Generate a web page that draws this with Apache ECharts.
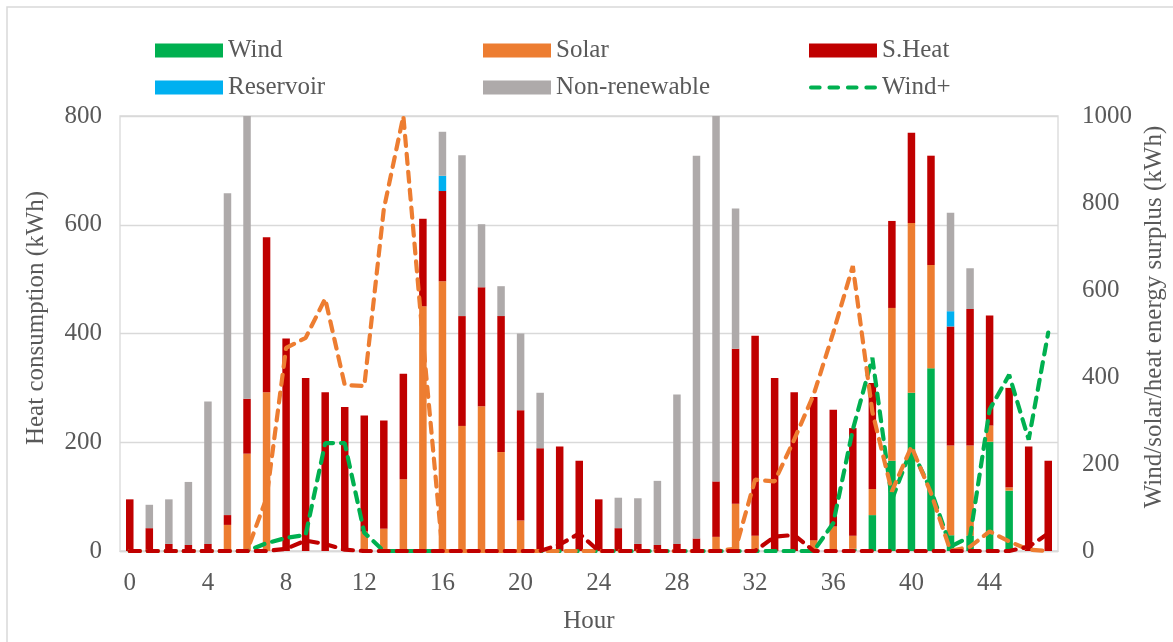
<!DOCTYPE html>
<html>
<head>
<meta charset="utf-8">
<title>Hourly heat consumption by source</title>
<script src="https://cdn.jsdelivr.net/npm/echarts@6/dist/echarts.min.js"></script>
<style>
  html, body { margin: 0; padding: 0; background: #ffffff; }
  #chart { width: 1173px; height: 642px; }
</style>
</head>
<body>
<div id="chart"></div>
<script>
// Hours of the two-day period
const hours = Array.from({ length: 48 }, (_, i) => String(i));

// Heat consumption by source (kWh), stacked bars on the left axis
const wind = [0, 0, 0, 0, 0, 0, 0, 0, 0, 0, 0, 0, 0, 0, 0, 0,
  0, 0, 0, 0, 0, 0, 0, 0, 0, 0, 0, 0, 0, 0, 0, 0,
  0, 0, 0, 0, 0, 4, 66, 166, 291, 336, 29, 28, 201, 111, 0, 0];
const solar = [0, 0, 0, 0, 0, 48, 179, 292, 0, 0, 0, 0, 36, 41, 132, 450,
  496, 230, 266, 182, 56, 0, 0, 0, 0, 0, 0, 0, 0, 0, 26, 87,
  28, 0, 0, 20, 45, 24, 48, 281, 312, 190, 165, 166, 30, 6, 0, 0];
const sHeat = [95, 42, 13, 11, 13, 18, 101, 285, 391, 318, 292, 265, 213, 199, 194, 161,
  166, 202, 219, 250, 203, 189, 192, 166, 95, 42, 13, 11, 13, 23, 102, 285,
  368, 318, 292, 263, 215, 198, 195, 160, 166, 201, 219, 251, 202, 183, 192, 166];
const reservoir = [0, 0, 0, 0, 0, 0, 0, 0, 0, 0, 0, 0, 0, 0, 0, 0,
  28, 0, 0, 0, 0, 0, 0, 0, 0, 0, 0, 0, 0, 0, 0, 0,
  0, 0, 0, 0, 0, 0, 0, 0, 0, 0, 28, 0, 0, 0, 0, 0];
const nonRenewable = [0, 43, 82, 116, 262, 592, 520, 0, 0, 0, 0, 0, 0, 0, 0, 0,
  81, 296, 116, 55, 141, 102, 0, 0, 0, 56, 84, 118, 275, 704, 672, 258,
  0, 0, 0, 0, 0, 0, 0, 0, 0, 0, 181, 75, 0, 0, 0, 0];

// Energy surplus (kWh), dashed lines on the right axis
const windSurplus = [0, 0, 0, 0, 0, 0, 0, 18, 30, 37, 248, 248, 42, 0, 0, 0,
  0, 0, 0, 0, 0, 0, 0, 0, 0, 0, 0, 0, 0, 0, 0, 0,
  0, 0, 0, 0, 64, 279, 444, 118, 235, 140, 10, 33, 325, 405, 256, 502];
const solarSurplus = [0, 0, 0, 0, 0, 0, 0, 122, 467, 490, 580, 382, 379, 786, 1000, 486,
  0, 0, 0, 0, 0, 0, 0, 0, 0, 0, 0, 0, 0, 0, 0, 5,
  164, 160, 256, 360, 502, 655, 320, 137, 240, 133, 0, 10, 45, 22, 3, 0];
const heatSurplus = [0, 0, 0, 0, 0, 0, 0, 0, 5, 24, 16, 3, 0, 0, 0, 0,
  0, 0, 0, 0, 0, 0, 15, 40, 0, 0, 0, 0, 0, 0, 0, 0,
  0, 33, 37, 0, 0, 0, 0, 0, 0, 0, 0, 0, 0, 0, 10, 40];

// Axis tick values
const leftTicks = { min: 0, max: 800, step: 200 };
const rightTicks = { min: 0, max: 1000, step: 200 };

const FONT = "'Liberation Serif', 'Times New Roman', serif";
const TEXT = '#595959';
const GRID = '#D9D9D9';
const COLORS = {
  wind: '#00B050', solar: '#ED7D31', heat: '#C00000',
  reservoir: '#00B0F0', nonRenewable: '#AEAAAA'
};

// Four rounded dashes, used as the legend key of the dashed line
const DASH_ICON = 'path://' + [0, 19, 38, 57].map(x =>
  `M${x + 2},0h9a2,2 0 0 1 0,4h-9a2,2 0 0 1 0,-4z`).join('');

const barSeries = (name, data, color) => ({
  name, type: 'bar', stack: 'heat', data, barWidth: 7.5,
  itemStyle: { color }, yAxisIndex: 0
});
const dashLine = (name, data, color) => ({
  name, type: 'line', data, yAxisIndex: 1, symbol: 'none', smooth: false,
  lineStyle: { color, width: 4.2, type: [10, 8], cap: 'round' },
  itemStyle: { color }, z: 5
});

const legendText = { fontFamily: FONT, fontSize: 25, color: TEXT, lineHeight: 25 };
const legendCol = (left, names) => ({
  orient: 'vertical', left, top: 38, padding: 0,
  itemWidth: 68, itemHeight: 14, itemGap: 12,
  textStyle: legendText, selectedMode: false,
  data: names
});

const chart = echarts.init(document.getElementById('chart'), null, { renderer: 'canvas' });
chart.setOption({
  animation: false,
  backgroundColor: '#ffffff',
  textStyle: { fontFamily: FONT },
  grid: { left: 120, right: 115, top: 116, bottom: 91, show: true, borderColor: GRID, borderWidth: 1.3 },
  legend: [
    legendCol(155, [{ name: 'Wind', icon: 'rect' }, { name: 'Reservoir', icon: 'rect' }]),
    legendCol(483, [{ name: 'Solar', icon: 'rect' }, { name: 'Non-renewable', icon: 'rect' }]),
    legendCol(809, [{ name: 'S.Heat', icon: 'rect' }, { name: 'Wind+', icon: DASH_ICON, itemStyle: { color: COLORS.wind } }])
  ],
  xAxis: {
    type: 'category', data: hours, boundaryGap: true,
    axisTick: { show: false },
    axisLine: { lineStyle: { color: GRID, width: 1.3 } },
    axisLabel: { interval: 3, fontFamily: FONT, fontSize: 25, color: TEXT, margin: 20 }
  },
  yAxis: [
    {
      type: 'value', min: leftTicks.min, max: leftTicks.max, interval: leftTicks.step,
      axisLine: { show: false }, axisTick: { show: false },
      splitLine: { lineStyle: { color: GRID, width: 1.3 } },
      axisLabel: { fontFamily: FONT, fontSize: 25, color: TEXT, margin: 18 }
    },
    {
      type: 'value', position: 'right',
      min: rightTicks.min, max: rightTicks.max, interval: rightTicks.step,
      axisLine: { show: false }, axisTick: { show: false }, splitLine: { show: false },
      axisLabel: { fontFamily: FONT, fontSize: 25, color: TEXT, margin: 24, formatter: v => String(v) }
    }
  ],
  graphic: [
    {
      type: 'rect', silent: true, z: -1,
      shape: { x: 7, y: 7, width: 1400, height: 900 },
      style: { fill: null, stroke: GRID, lineWidth: 1.5 }
    },
    {
      type: 'text', x: 36, y: 318, rotation: Math.PI / 2,
      style: { text: 'Heat consumption (kWh)', font: `25px ${FONT}`, fill: TEXT, align: 'center', verticalAlign: 'middle' }
    },
    {
      type: 'text', x: 1154, y: 317, rotation: Math.PI / 2,
      style: { text: 'Wind/solar/heat energy surplus (kWh)', font: `25px ${FONT}`, fill: TEXT, align: 'center', verticalAlign: 'middle' }
    },
    {
      type: 'text', x: 589, y: 621,
      style: { text: 'Hour', font: `25px ${FONT}`, fill: TEXT, align: 'center', verticalAlign: 'middle' }
    }
  ],
  series: [
    barSeries('Wind', wind, COLORS.wind),
    barSeries('Solar', solar, COLORS.solar),
    barSeries('S.Heat', sHeat, COLORS.heat),
    barSeries('Reservoir', reservoir, COLORS.reservoir),
    barSeries('Non-renewable', nonRenewable, COLORS.nonRenewable),
    dashLine('Wind+', windSurplus, COLORS.wind),
    dashLine('Solar+', solarSurplus, COLORS.solar),
    dashLine('S.Heat+', heatSurplus, COLORS.heat)
  ]
});
</script>
</body>
</html>
